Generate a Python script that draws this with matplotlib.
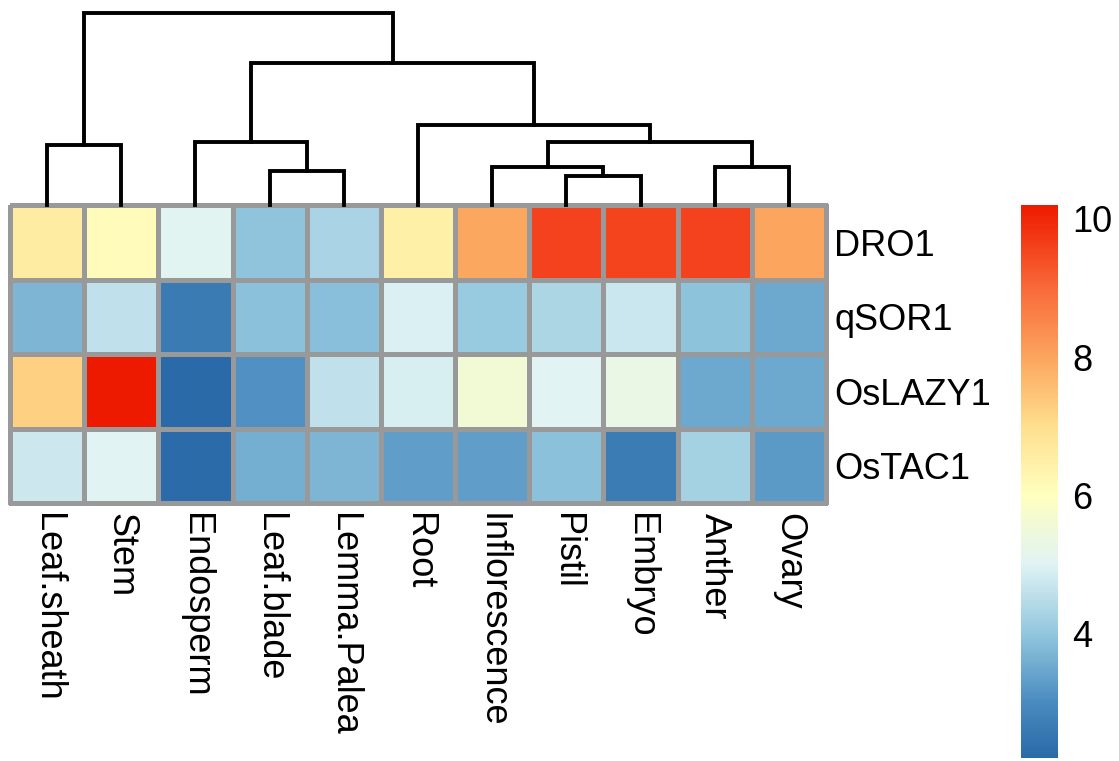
import numpy as np
import matplotlib.pyplot as plt
from matplotlib.colors import LinearSegmentedColormap, Normalize
from matplotlib.cm import ScalarMappable

plt.rcParams['font.family'] = ['Liberation Sans', 'DejaVu Sans']

# ---- data ----
tissues = ['Leaf.sheath', 'Stem', 'Endosperm', 'Leaf.blade', 'Lemma.Palea', 'Root',
           'Inflorescence', 'Pistil', 'Embryo', 'Anther', 'Ovary']
genes = ['DRO1', 'qSOR1', 'OsLAZY1', 'OsTAC1']

dro1    = [6.6, 6.1, 5.05, 3.95, 4.3, 6.45, 7.95, 9.6, 9.55, 9.6, 8.0]
qsor1   = [3.7, 4.6, 2.62, 3.9, 3.88, 4.92, 4.1, 4.35, 4.7, 3.93, 3.5]
oslazy1 = [7.25, 10.2, 2.2, 3.1, 4.6, 4.9, 5.6, 5.02, 5.3, 3.5, 3.5]
ostac1  = [4.75, 5.02, 2.25, 3.6, 3.7, 3.3, 3.3, 3.9, 2.65, 4.25, 3.25]

# column clustering: (left, right, height); leaves 0..10, new clusters numbered from 11
merges = [
    (7, 8, 1.45),
    (3, 4, 1.7),
    (6, 11, 1.9),
    (9, 10, 1.9),
    (0, 1, 3.0),
    (2, 12, 3.15),
    (13, 14, 3.15),
    (5, 17, 4.0),
    (16, 18, 7.1),
    (15, 19, 9.6),
]

cbar_ticks = [4, 6, 8, 10]

# ---- colours ----
anchors = [2.2, 3.0, 4.0, 5.0, 6.0, 7.0, 8.0, 9.0, 10.2]
colors = ['#2A6AA8', '#4A8BC0', '#93C7DE', '#E0F3F4', '#FFFFBF',
          '#FEDF8E', '#FCA55E', '#F96A3A', '#EE1A00']
mat = np.array([dro1, qsor1, oslazy1, ostac1])
vmin, vmax = mat.min(), mat.max()
pos = [(a - vmin) / (vmax - vmin) for a in anchors]
cmap = LinearSegmentedColormap.from_list('rdylbu_hm', list(zip(pos, colors)), N=256)
norm = Normalize(vmin=vmin, vmax=vmax)

W, H = 1119, 761
fig = plt.figure(figsize=(W / 100, H / 100), dpi=100)

def px_axes(x0, y0, x1, y1):
    return fig.add_axes([x0 / W, 1 - y1 / H, (x1 - x0) / W, (y1 - y0) / H])

# ---- heatmap ----
ax = px_axes(10, 205, 826, 503)
mesh = ax.pcolormesh(np.arange(12), np.arange(5), mat, cmap=cmap, norm=norm,
                     edgecolors='#999999', linewidth=2.4)
mesh.set_clip_on(False)
ax.set_xlim(0, 11)
ax.set_ylim(4, 0)
for s in ax.spines.values():
    s.set_visible(False)
ax.set_xticks(np.arange(11) + 0.5)
ax.set_xticklabels(tissues, rotation=270, fontsize=26)
ax.set_yticks(np.arange(4) + 0.5)
ax.set_yticklabels(genes, fontsize=26)
ax.yaxis.tick_right()
ax.tick_params(axis='x', length=0, pad=7)
ax.tick_params(axis='y', length=0, pad=6)
for t in ax.get_xticklabels():
    t.set_va('top')
    t.set_ha('center')

# ---- dendrogram ----
dax = px_axes(10, 13, 826, 205)
xpos = {i: i + 0.5 for i in range(11)}
hgt = {i: 0.0 for i in range(11)}
for k, (a, b, h) in enumerate(merges):
    xa, xb = xpos[a], xpos[b]
    dax.plot([xa, xa, xb, xb], [hgt[a], h, h, hgt[b]], color='black', lw=2.8,
             solid_joinstyle='miter', clip_on=False)
    xpos[11 + k] = (xa + xb) / 2
    hgt[11 + k] = h
dax.set_xlim(0, 11)
dax.set_ylim(0, merges[-1][2])
dax.axis('off')

# ---- colour bar ----
cax = px_axes(1021, 205, 1058, 758)
cb = fig.colorbar(ScalarMappable(norm=norm, cmap=cmap), cax=cax, ticks=cbar_ticks)
cb.outline.set_visible(False)
cb.ax.tick_params(length=0, pad=10, labelsize=26)

fig.savefig('out.png', dpi=100)
